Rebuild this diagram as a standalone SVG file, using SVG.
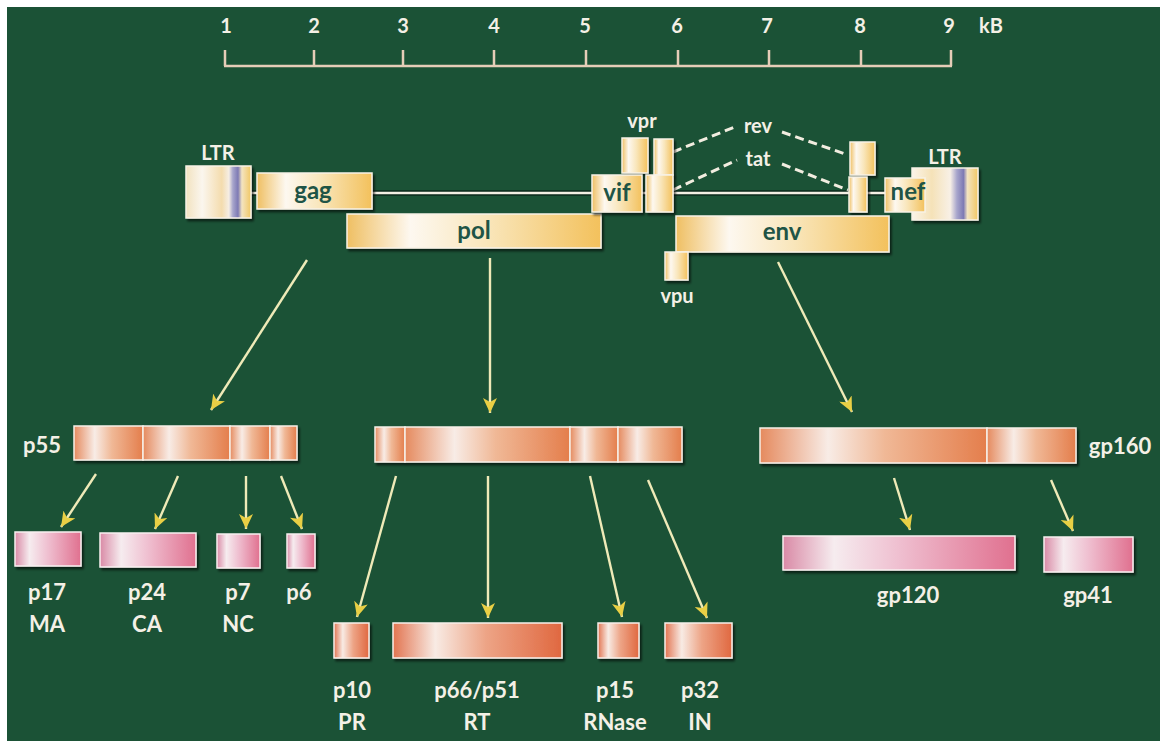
<svg xmlns="http://www.w3.org/2000/svg" width="1160" height="741" viewBox="0 0 1160 741">
<defs>
<style>
.t{font-family:Lato,"Open Sans","Liberation Sans",sans-serif;font-weight:700;fill:#f4f0e6;text-anchor:middle}
.s{font-size:20px}
.m{font-size:22px}
.g{font-family:Lato,"Open Sans","Liberation Sans",sans-serif;font-weight:700;fill:#1f5446;text-anchor:middle;font-size:24px}
.gb{fill:url(#yel);stroke:#f8f2e6;stroke-width:1.5;filter:url(#sh)}
.pb{fill:url(#sal);stroke:#f6efe8;stroke-width:1.5}
.pk{fill:url(#pink);stroke:#f8f0f0;stroke-width:1.5;filter:url(#sh)}
.rd{fill:url(#red);stroke:#f8f0ea;stroke-width:1.5;filter:url(#sh)}
.ar{stroke:#efeab8;stroke-width:2.4;fill:none;marker-end:url(#ah)}
.dash{stroke:#f2ede0;stroke-width:3;stroke-dasharray:9 5;fill:none}
</style>
<filter id="sh" x="-10%" y="-20%" width="130%" height="160%">
<feDropShadow dx="2" dy="2.5" stdDeviation="1.2" flood-color="#000" flood-opacity="0.6"/>
</filter>
<linearGradient id="yel" x1="0" y1="0" x2="1" y2="0">
<stop offset="0" stop-color="#efbf62"/><stop offset="0.25" stop-color="#fdf8f0"/><stop offset="0.55" stop-color="#f9e6bb"/><stop offset="1" stop-color="#f3c15c"/>
</linearGradient>
<linearGradient id="ltrL" x1="0" y1="0" x2="1" y2="0">
<stop offset="0" stop-color="#f2e2c0"/><stop offset="0.25" stop-color="#fbf6ee"/><stop offset="0.55" stop-color="#f4dcae"/><stop offset="0.66" stop-color="#f6eee4"/><stop offset="0.72" stop-color="#a8a6cc"/><stop offset="0.8" stop-color="#7e7ab4"/><stop offset="0.86" stop-color="#f4e4c0"/><stop offset="1" stop-color="#f1c764"/>
</linearGradient>
<linearGradient id="ltrR" x1="0" y1="0" x2="1" y2="0">
<stop offset="0" stop-color="#fbf4e8"/><stop offset="0.3" stop-color="#f5e2b8"/><stop offset="0.58" stop-color="#f8f0e6"/><stop offset="0.68" stop-color="#a8a6cc"/><stop offset="0.78" stop-color="#7e7ab4"/><stop offset="0.84" stop-color="#f4e4c0"/><stop offset="1" stop-color="#f1c764"/>
</linearGradient>
<linearGradient id="sal" x1="0" y1="0" x2="1" y2="0">
<stop offset="0" stop-color="#e58a5e"/><stop offset="0.3" stop-color="#f8ece6"/><stop offset="0.55" stop-color="#f0b896"/><stop offset="1" stop-color="#e47e4c"/>
</linearGradient>
<linearGradient id="pink" x1="0" y1="0" x2="1" y2="0">
<stop offset="0" stop-color="#d98aa6"/><stop offset="0.22" stop-color="#f6ecef"/><stop offset="0.5" stop-color="#efbfd0"/><stop offset="1" stop-color="#e0708f"/>
</linearGradient>
<linearGradient id="red" x1="0" y1="0" x2="1" y2="0">
<stop offset="0" stop-color="#e27450"/><stop offset="0.25" stop-color="#f8ebe4"/><stop offset="0.55" stop-color="#eda486"/><stop offset="1" stop-color="#e06840"/>
</linearGradient>
<marker id="ah" markerWidth="16" markerHeight="14" refX="15" refY="7" orient="auto" markerUnits="userSpaceOnUse">
<path d="M0,0 L15,7 L0,14 L4,7 z" fill="#e9cf45"/>
</marker>
</defs>

<rect x="0" y="0" width="1160" height="741" fill="#ffffff"/>
<rect x="7" y="7" width="1153" height="734" fill="#1b5236"/>

<g id="scale">
<path d="M224,66 H952 M225,50 V66 M314,50 V66 M403,50 V66 M494,50 V66 M586,50 V66 M678,50 V66 M769,50 V66 M861,50 V66 M951,50 V66" stroke="#e6cdb8" stroke-width="2.5" fill="none"/>
<text class="t s" x="226" y="33">1</text>
<text class="t s" x="314" y="33">2</text>
<text class="t s" x="403" y="33">3</text>
<text class="t s" x="494" y="33">4</text>
<text class="t s" x="585" y="33">5</text>
<text class="t s" x="677" y="33">6</text>
<text class="t s" x="767" y="33">7</text>
<text class="t s" x="860" y="33">8</text>
<text class="t s" x="949" y="33">9</text>
<text class="t s" x="991" y="33">kB</text>
</g>

<g id="backbone">
<path d="M250,193 H258 M372,193 H592 M642,193 H646 M673,193 H849 M867,193 H886" stroke="#0d2a1c" stroke-width="5.5" fill="none"/>
<path d="M250,193 H258 M372,193 H592 M642,193 H646 M673,193 H849 M867,193 H886" stroke="#f4efe4" stroke-width="2.6" fill="none"/>
</g>

<g id="connectors">
<path class="dash" d="M673,152 L737,126 M782,132 L848,155"/>
<path class="dash" d="M673,190 L737,160 M782,164 L848,190"/>
<line class="ar" x1="307" y1="260" x2="211" y2="410"/>
<line class="ar" x1="490" y1="258" x2="490" y2="413"/>
<line class="ar" x1="778" y1="262" x2="852" y2="412"/>
<line class="ar" x1="96" y1="474" x2="61" y2="527"/>
<line class="ar" x1="178" y1="476" x2="155" y2="529"/>
<line class="ar" x1="246" y1="476" x2="246" y2="529"/>
<line class="ar" x1="281" y1="476" x2="302" y2="529"/>
<line class="ar" x1="396" y1="476" x2="357" y2="617"/>
<line class="ar" x1="488" y1="476" x2="488" y2="618"/>
<line class="ar" x1="590" y1="476" x2="622" y2="617"/>
<line class="ar" x1="648" y1="480" x2="707" y2="618"/>
<line class="ar" x1="894" y1="478" x2="910" y2="530"/>
<line class="ar" x1="1051" y1="480" x2="1073" y2="531"/>
</g>

<g id="LTR5">
<rect x="186" y="166" width="65" height="52" fill="url(#ltrL)" stroke="#f8f2e6" stroke-width="1.5" filter="url(#sh)"/>
<text class="t s" x="218" y="160">LTR</text>
</g>
<g id="gag"><rect class="gb" x="257" y="173" width="115" height="36"/><text class="g" x="313" y="199">gag</text></g>
<g id="pol"><rect class="gb" x="347" y="214" width="254" height="34"/><text class="g" x="474" y="239">pol</text></g>
<g id="vpr"><rect class="gb" x="622" y="138" width="26" height="35"/><text class="t s" x="642" y="128">vpr</text></g>
<g id="vif"><rect class="gb" x="592" y="175" width="50" height="37"/><text class="g" x="617" y="201">vif</text></g>
<g id="revtat1"><rect class="gb" x="654" y="139" width="19" height="36"/><rect class="gb" x="646" y="175" width="27" height="37"/></g>
<g id="rev"><text class="t s" x="758" y="133">rev</text></g>
<g id="tat"><text class="t s" x="758" y="166">tat</text></g>
<g id="revtat2"><rect class="gb" x="850" y="142" width="25" height="33"/><rect class="gb" x="849" y="177" width="18" height="35"/></g>
<g id="env"><rect class="gb" x="676" y="216" width="213" height="36"/><text class="g" x="782" y="240">env</text></g>
<g id="vpu"><rect class="gb" x="665" y="252" width="23" height="28"/><text class="t s" x="677" y="303">vpu</text></g>
<g id="LTR3">
<rect x="912" y="168" width="66" height="52" fill="url(#ltrR)" stroke="#f8f2e6" stroke-width="1.5" filter="url(#sh)"/>
<text class="t s" x="945" y="164">LTR</text>
</g>
<g id="nef"><rect x="885" y="178" width="40" height="34" fill="url(#yel)" stroke="#f8f2e6" stroke-width="1.5"/><text class="g" x="908" y="200">nef</text></g>

<g id="p55">
<g filter="url(#sh)">
<rect class="pb" x="74" y="426" width="69" height="34"/>
<rect class="pb" x="143" y="426" width="87" height="34"/>
<rect class="pb" x="230" y="426" width="40" height="34"/>
<rect class="pb" x="270" y="426" width="27" height="34"/>
</g>
<text class="t m" x="42" y="453">p55</text>
</g>
<g id="polprec">
<g filter="url(#sh)">
<rect class="pb" x="375" y="427" width="30" height="35"/>
<rect class="pb" x="405" y="427" width="165" height="35"/>
<rect class="pb" x="570" y="427" width="48" height="35"/>
<rect class="pb" x="618" y="427" width="64" height="35"/>
</g>
</g>
<g id="gp160">
<g filter="url(#sh)">
<rect class="pb" x="760" y="428" width="227" height="35"/>
<rect class="pb" x="987" y="428" width="89" height="35"/>
</g>
<text class="t m" x="1120" y="454">gp160</text>
</g>

<g id="p17"><rect class="pk" x="15" y="532" width="66" height="34"/><text class="t m" x="47" y="600">p17</text><text class="t m" x="47" y="632">MA</text></g>
<g id="p24"><rect class="pk" x="100" y="533" width="96" height="34"/><text class="t m" x="147" y="600">p24</text><text class="t m" x="147" y="632">CA</text></g>
<g id="p7"><rect class="pk" x="217" y="534" width="43" height="34"/><text class="t m" x="238" y="600">p7</text><text class="t m" x="238" y="632">NC</text></g>
<g id="p6"><rect class="pk" x="287" y="534" width="28" height="34"/><text class="t m" x="299" y="600">p6</text></g>

<g id="p10"><rect class="rd" x="334" y="623" width="35" height="35"/><text class="t m" x="352" y="698">p10</text><text class="t m" x="352" y="730">PR</text></g>
<g id="p66"><rect class="rd" x="393" y="623" width="169" height="35"/><text class="t m" x="477" y="698">p66/p51</text><text class="t m" x="477" y="730">RT</text></g>
<g id="p15"><rect class="rd" x="598" y="623" width="41" height="35"/><text class="t m" x="615" y="698">p15</text><text class="t m" x="615" y="730">RNase</text></g>
<g id="p32"><rect class="rd" x="665" y="623" width="67" height="35"/><text class="t m" x="700" y="698">p32</text><text class="t m" x="700" y="730">IN</text></g>

<g id="gp120"><rect class="pk" x="783" y="536" width="232" height="34"/><text class="t m" x="908" y="603">gp120</text></g>
<g id="gp41"><rect class="pk" x="1044" y="537" width="89" height="35"/><text class="t m" x="1088" y="603">gp41</text></g>
</svg>
